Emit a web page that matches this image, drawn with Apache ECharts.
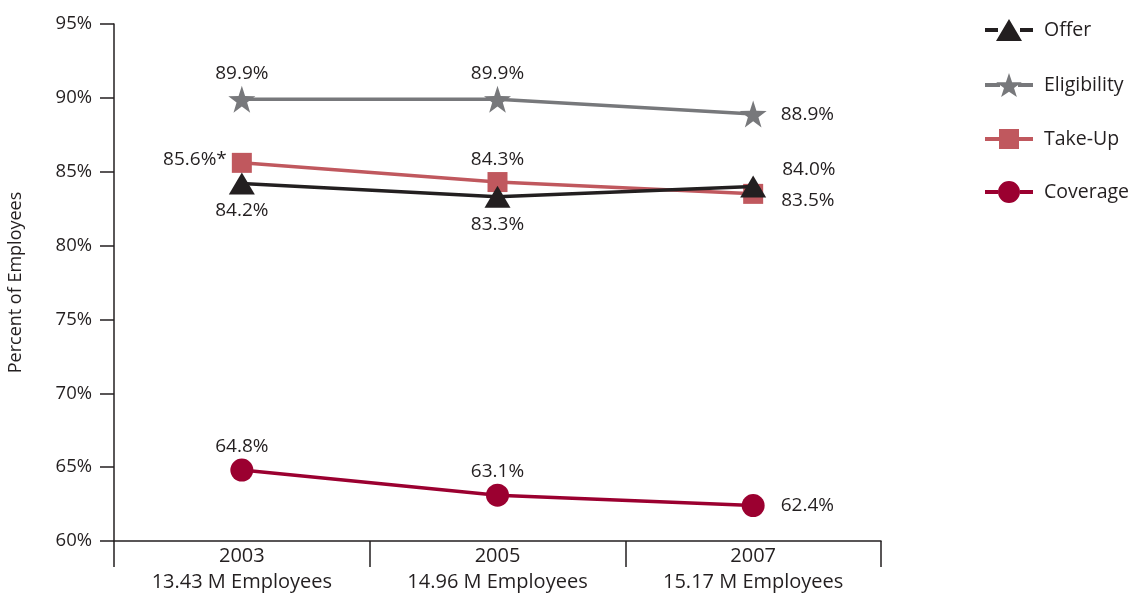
<!DOCTYPE html>
<html>
<head>
<meta charset="utf-8">
<script src="https://cdn.jsdelivr.net/npm/echarts@6/dist/echarts.min.js"></script>
<style>
html,body{margin:0;padding:0;background:#fff;}
#chart{width:1129px;height:595px;}
</style>
</head>
<body>
<div id="chart"></div>
<script>
const categories = ['2003\n13.43 M Employees', '2005\n14.96 M Employees', '2007\n15.17 M Employees'];
const offer = [84.2, 83.3, 84.0];
const eligibility = [89.9, 89.9, 88.9];
const takeUp = [85.6, 84.3, 83.5];
const coverage = [64.8, 63.1, 62.4];
const takeUpNotes = ['*', '', ''];
const yTicks = [60, 65, 70, 75, 80, 85, 90, 95];

const FONT = 'Open Sans';
const TXT = '#231f20';

const STAR = 'M50,0 L61.8,35.1 L98.9,35.5 L69.1,57.7 L80.2,93.1 L50,71.6 L19.8,93.1 L30.9,57.7 L1.1,35.5 L38.2,35.1 Z';

function mkData(vals, labelCfgs, notes) {
  return vals.map((v, i) => ({
    value: v,
    label: Object.assign({
      show: true,
      formatter: v.toFixed(1) + '%' + (notes ? notes[i] : ''),
      color: TXT, fontSize: 19, fontFamily: FONT
    }, labelCfgs[i])
  }));
}

// legend icons in a 48x24 box: bar pieces plus the marker
function bars(a, b) { return 'M0,10 L' + a + ',10 L' + a + ',14 L0,14 Z M' + b + ',10 L48,10 L48,14 L' + b + ',14 Z '; }
const legendIcons = {
  'Offer': 'path://' + bars(13, 35) + 'M11,23 L24,1 L37,23 Z',
  'Eligibility': 'path://' + bars(15, 33) + 'M24,0 L27.1,9.2 L36.8,9.3 L29,15.1 L31.9,24 L24,18.8 L16.1,24 L19,15.1 L11.2,9.3 L20.9,9.2 Z',
  'Take-Up': 'path://' + bars(14, 34) + 'M14,2 L34,2 L34,22 L14,22 Z',
  'Coverage': 'path://' + bars(13, 35) + 'M13,12 A11,11 0 1,1 35,12 A11,11 0 1,1 13,12 Z'
};

const series = [
  {
    name: 'Offer', type: 'line', data: mkData(offer, [
      {position: 'bottom', distance: 7},
      {position: 'bottom', distance: 7},
      {position: 'right', distance: 16, offset: [0, -17]}
    ]),
    symbol: 'triangle', symbolSize: [26, 22],
    lineStyle: {color: '#231f20', width: 3.5},
    itemStyle: {color: '#231f20'}, z: 4
  },
  {
    name: 'Eligibility', type: 'line', data: mkData(eligibility, [
      {position: 'top', distance: 3},
      {position: 'top', distance: 3},
      {position: 'right', distance: 14}
    ]),
    symbol: 'path://' + STAR,
    symbolSize: 27,
    lineStyle: {color: '#77787b', width: 3.5},
    itemStyle: {color: '#77787b'}, z: 3
  },
  {
    name: 'Take-Up', type: 'line', data: mkData(takeUp, [
      {position: 'left', distance: 5, offset: [0, -3]},
      {position: 'top', distance: 3},
      {position: 'right', distance: 18, offset: [0, 7]}
    ], takeUpNotes),
    symbol: 'rect', symbolSize: 20,
    lineStyle: {color: '#c0585e', width: 3.5},
    itemStyle: {color: '#c0585e'}, z: 3
  },
  {
    name: 'Coverage', type: 'line', data: mkData(coverage, [
      {position: 'top', distance: 3},
      {position: 'top', distance: 3},
      {position: 'right', distance: 16}
    ]),
    symbol: 'circle', symbolSize: 23,
    lineStyle: {color: '#9b0030', width: 3.5},
    itemStyle: {color: '#9b0030'}, z: 3
  }
];

const chart = echarts.init(document.getElementById('chart'), null, {renderer: 'canvas'});
chart.setOption({
  animation: false,
  backgroundColor: '#fff',
  grid: {left: 114, top: 24, right: 248, bottom: 54, containLabel: false, outerBoundsMode: 'none'},
  legend: {
    orient: 'vertical', left: 980, top: 14,
    itemWidth: 48, itemHeight: 24, itemGap: 32,
    textStyle: {color: TXT, fontSize: 19.5, fontFamily: FONT, padding: [0, 0, 0, 6]},
    data: series.map(s => ({name: s.name, icon: legendIcons[s.name]}))
  },
  xAxis: {
    type: 'category', data: categories, boundaryGap: true,
    axisLine: {lineStyle: {color: TXT, width: 1.5}},
    axisTick: {show: true, length: 26, lineStyle: {color: TXT, width: 1.5}, alignWithLabel: false},
    axisLabel: {color: TXT, fontSize: 20, fontFamily: FONT, lineHeight: 26, margin: 2}
  },
  yAxis: {
    type: 'value', min: yTicks[0], max: yTicks[yTicks.length - 1], interval: 5,
    name: 'Percent of Employees', nameLocation: 'middle', nameGap: 89,
    nameTextStyle: {color: TXT, fontSize: 18, fontFamily: FONT},
    axisLine: {show: true, lineStyle: {color: TXT, width: 1.5}},
    axisTick: {show: true, length: 14, lineStyle: {color: TXT, width: 1.5}},
    axisLabel: {color: TXT, fontSize: 18.5, fontFamily: FONT, margin: 22, formatter: v => v + '%'},
    splitLine: {show: false}
  },
  series: series
});
</script>
</body>
</html>
